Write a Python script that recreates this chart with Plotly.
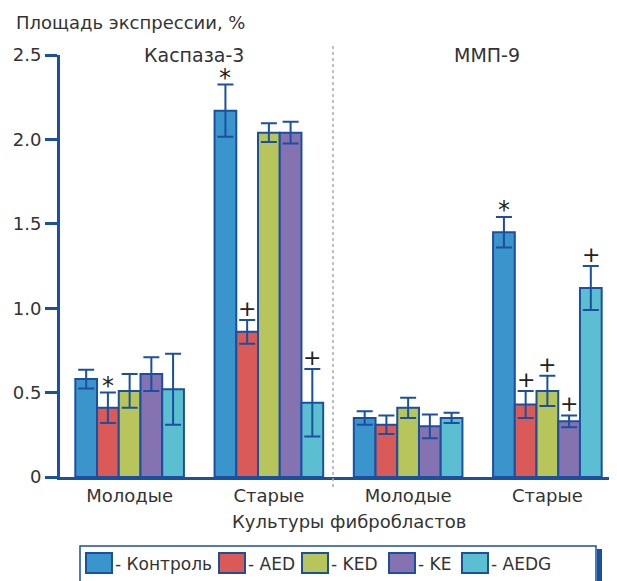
import plotly.graph_objects as go

# ---- data ----
groups = ["Молодые", "Старые", "Молодые", "Старые"]
series = ["Контроль", "AED", "KED", "KE", "AEDG"]
colors = ["#3a95cd", "#d95a56", "#b8c55a", "#8572b0", "#5bbfd1"]

control = [0.58, 2.17, 0.35, 1.45]
aed     = [0.41, 0.86, 0.31, 0.43]
ked     = [0.51, 2.04, 0.41, 0.51]
ke      = [0.61, 2.04, 0.30, 0.33]
aedg    = [0.52, 0.44, 0.35, 1.12]

control_err = [0.055, 0.155, 0.04, 0.09]
aed_err     = [0.09, 0.07, 0.055, 0.08]
ked_err     = [0.10, 0.055, 0.06, 0.09]
ke_err      = [0.10, 0.065, 0.07, 0.035]
aedg_err    = [0.21, 0.20, 0.03, 0.13]

values = [control, aed, ked, ke, aedg]
errors = [control_err, aed_err, ked_err, ke_err, aedg_err]

# significance marks: (group index, series index, symbol)
marks = [(0, 1, "*"), (1, 0, "*"), (1, 1, "+"), (1, 4, "+"),
         (3, 0, "*"), (3, 1, "+"), (3, 2, "+"), (3, 3, "+"), (3, 4, "+")]

panel_titles = ["Каспаза-3", "ММП-9"]
y_ticks = [0, 0.5, 1.0, 1.5, 2.0, 2.5]
y_ticktext = ["0", "0.5", "1.0", "1.5", "2.0", "2.5"]

# ---- layout constants (page pixel coordinates; page has an 8px body margin) ----
OFF = 8
W, H = 617 - OFF, 581 - OFF
AX_L, AX_R, AX_T, AX_B = 60, 617, 55, 477   # plot area in page pixels
ML, MR, MT, MB = AX_L - OFF, W - (AX_R - OFF), AX_T - OFF, H - (AX_B - OFF)
PW, PH = AX_R - AX_L, AX_B - AX_T
BLUE = "#1b4f9f"
TEXT = "#333333"
FONT = "DejaVu Sans"
BARGAP = 0.22
n = len(series)
bw = (1 - BARGAP) / n

def px_x(px):
    return (px - AX_L) / PW

def px_y(py):
    return (AX_B - py) / PH

xs = list(range(len(groups)))
fig = go.Figure()
for i, name in enumerate(series):
    fig.add_trace(go.Bar(
        x=xs, y=values[i], name=name,
        marker=dict(color=colors[i], line=dict(color=BLUE, width=2)),
        error_y=dict(type="data", array=errors[i], visible=True,
                     color=BLUE, thickness=2, width=8),
        showlegend=False,
    ))

annotations = []
for g, s, sym in marks:
    xpos = g - (1 - BARGAP) / 2 + bw * (s + 0.5)
    annotations.append(dict(
        x=xpos, y=values[s][g] + errors[s][g], xref="x", yref="y",
        text=sym, showarrow=False, yanchor="bottom",
        yshift=-9 if sym == "*" else -3,
        font=dict(family=FONT, size=24 if sym == "*" else 22, color="#222222"),
    ))

# panel titles
for t, cx in zip(panel_titles, [194, 487]):
    annotations.append(dict(
        x=px_x(cx), y=px_y(55), xref="paper", yref="paper",
        text=t, showarrow=False, yanchor="middle", xanchor="center",
        font=dict(family=FONT, size=19, color=TEXT),
    ))

# y-axis title
annotations.append(dict(
    x=px_x(14), y=px_y(22), xref="paper", yref="paper", xanchor="left",
    yanchor="middle", text="Площадь экспрессии, %", showarrow=False,
    font=dict(family=FONT, size=18, color=TEXT),
))
# x-axis title
annotations.append(dict(
    x=px_x(349), y=px_y(521), xref="paper", yref="paper", xanchor="center",
    yanchor="middle", text="Культуры фибробластов", showarrow=False,
    font=dict(family=FONT, size=18, color=TEXT),
))

shapes = []
# dotted divider
shapes.append(dict(type="line", xref="paper", yref="paper",
                   x0=px_x(333), x1=px_x(333), y0=px_y(46), y1=px_y(490),
                   line=dict(color="#aaaaaa", width=1.5, dash="dot")))

# manual legend
shapes.append(dict(type="rect", xref="paper", yref="paper",
                   x0=px_x(597), x1=px_x(602), y0=px_y(549), y1=px_y(590),
                   line=dict(width=0), fillcolor=BLUE))
shapes.append(dict(type="rect", xref="paper", yref="paper",
                   x0=px_x(80), x1=px_x(596), y0=px_y(546), y1=px_y(592),
                   line=dict(color=BLUE, width=1.5), fillcolor="white"))
legend_x = [86, 219, 302, 389, 462]
for i, name in enumerate(series):
    x0 = legend_x[i]
    shapes.append(dict(type="rect", xref="paper", yref="paper",
                       x0=px_x(x0), x1=px_x(x0 + 26), y0=px_y(553), y1=px_y(573),
                       line=dict(color=BLUE, width=2), fillcolor=colors[i]))
    annotations.append(dict(
        x=px_x(x0 + 27), y=px_y(564), xref="paper", yref="paper",
        xanchor="left", yanchor="middle", text="- " + name, showarrow=False,
        font=dict(family=FONT, size=17, color=TEXT),
    ))

fig.update_layout(
    width=W, height=H,
    margin=dict(l=ML, r=MR, t=MT, b=MB, pad=0),
    paper_bgcolor="white", plot_bgcolor="white",
    barmode="group", bargap=BARGAP, bargroupgap=0,
    annotations=annotations, shapes=shapes,
    font=dict(family=FONT, color=TEXT),
    xaxis=dict(
        range=[-0.5, 3.5], tickvals=xs, ticktext=groups,
        showgrid=False, zeroline=False, showline=True,
        linecolor=BLUE, linewidth=3, ticks="",
        tickfont=dict(family=FONT, size=18, color=TEXT),
    ),
    yaxis=dict(
        range=[0, 2.5], tickvals=y_ticks, ticktext=y_ticktext,
        showgrid=False, zeroline=False, showline=True,
        linecolor=BLUE, linewidth=3, ticks="outside", ticklen=12,
        tickwidth=3, tickcolor=BLUE,
        tickfont=dict(family=FONT, size=18, color=TEXT),
    ),
)

fig.write_html("out.html")
